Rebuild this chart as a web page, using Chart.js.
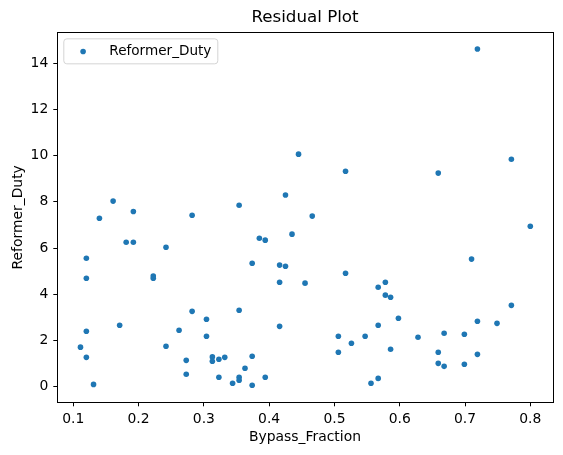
<!DOCTYPE html>
<html>
<head>
<meta charset="utf-8">
<script src="https://cdn.jsdelivr.net/npm/chart.js@4.4.1/dist/chart.umd.min.js"></script>
<style>
html,body{margin:0;padding:0;background:#fff;}
#wrap{width:563px;height:455px;position:relative;}
</style>
</head>
<body>
<div id="wrap"><canvas id="c"></canvas></div>
<script>
const chartTitle = "Residual Plot";
const xLabel = "Bypass_Fraction";
const yLabel = "Reformer_Duty";
const seriesName = "Reformer_Duty";
const xTicks = [0.1, 0.2, 0.3, 0.4, 0.5, 0.6, 0.7, 0.8];
const yTicks = [0, 2, 4, 6, 8, 10, 12, 14];

const bypassFraction = [
  0.140, 0.192, 0.282, 0.161, 0.181, 0.192, 0.242, 0.120, 0.120, 0.2225,
  0.2225, 0.282, 0.304, 0.171, 0.120, 0.262, 0.304, 0.111, 0.242, 0.120,
  0.273, 0.313, 0.313, 0.323, 0.332, 0.273, 0.323, 0.131, 0.445, 0.517,
  0.425, 0.354, 0.466, 0.719, 0.771, 0.659, 0.435, 0.385, 0.394, 0.374,
  0.416, 0.425, 0.517, 0.416, 0.455, 0.578, 0.567, 0.578, 0.586, 0.354,
  0.416, 0.567, 0.506, 0.547, 0.526, 0.506, 0.586, 0.374, 0.363, 0.354,
  0.354, 0.394, 0.344, 0.374, 0.556, 0.567, 0.800, 0.710, 0.771, 0.598,
  0.719, 0.749, 0.628, 0.668, 0.699, 0.659, 0.719, 0.659, 0.668, 0.699
];
const reformerDuty = [
  7.29, 7.58, 7.42, 8.03, 6.25, 6.25, 6.03, 5.56, 4.69, 4.79,
  4.69, 3.26, 2.92, 2.66, 2.40, 2.44, 2.18, 1.71, 1.75, 1.27,
  1.14, 1.29, 1.10, 1.19, 1.27, 0.54, 0.41, 0.10, 10.06, 9.32,
  8.29, 7.85, 7.38, 14.61, 9.84, 9.24, 6.60, 6.42, 6.34, 5.34,
  5.26, 5.21, 4.91, 4.52, 4.48, 4.52, 4.30, 3.96, 3.87, 3.31,
  2.61, 2.66, 2.18, 2.18, 1.88, 1.49, 1.62, 1.32, 0.80, 0.41,
  0.28, 0.41, 0.15, 0.06, 0.15, 0.36, 6.94, 5.52, 3.52, 2.96,
  2.83, 2.74, 2.14, 2.31, 2.27, 1.49, 1.40, 1.01, 0.88, 0.97
];

const points = bypassFraction.map((x, i) => ({x: x, y: reformerDuty[i]}));
const FONT = "'DejaVu Sans', sans-serif";
const BLUE = '#1f77b4';

const framePlugin = {
  id: 'frame',
  afterDraw(chart) {
    const {ctx, chartArea: a} = chart;
    ctx.save();
    ctx.strokeStyle = '#000';
    ctx.lineWidth = 1;
    ctx.strokeRect(Math.round(a.left) + 0.5, Math.round(a.top) + 0.5,
                   Math.round(a.right) - Math.round(a.left), Math.round(a.bottom) - Math.round(a.top));
    // legend
    const bx = a.left + 6.5, by = a.top + 6.5, bw = 154, bh = 25, r = 3;
    ctx.beginPath();
    ctx.moveTo(bx + r, by);
    ctx.lineTo(bx + bw - r, by);
    ctx.quadraticCurveTo(bx + bw, by, bx + bw, by + r);
    ctx.lineTo(bx + bw, by + bh - r);
    ctx.quadraticCurveTo(bx + bw, by + bh, bx + bw - r, by + bh);
    ctx.lineTo(bx + r, by + bh);
    ctx.quadraticCurveTo(bx, by + bh, bx, by + bh - r);
    ctx.lineTo(bx, by + r);
    ctx.quadraticCurveTo(bx, by, bx + r, by);
    ctx.closePath();
    ctx.fillStyle = 'rgba(255,255,255,0.8)';
    ctx.fill();
    ctx.strokeStyle = '#d4d4d4';
    ctx.stroke();
    ctx.beginPath();
    ctx.arc(bx + 19.3, by + 12.6, 2.8, 0, Math.PI * 2);
    ctx.fillStyle = BLUE;
    ctx.fill();
    ctx.fillStyle = '#000';
    ctx.font = "13.6px " + FONT;
    ctx.textBaseline = 'middle';
    ctx.textAlign = 'left';
    ctx.fillText(chart.data.datasets[0].label, bx + 45.5, by + 12.8);
    ctx.restore();
  }
};

new Chart(document.getElementById('c'), {
  type: 'scatter',
  data: {
    datasets: [{
      label: seriesName,
      data: points,
      backgroundColor: BLUE,
      borderColor: BLUE,
      borderWidth: 0,
      pointRadius: 2.8,
      pointHoverRadius: 2.8
    }]
  },
  options: {
    responsive: true,
    maintainAspectRatio: false,
    animation: false,
    events: [],
    layout: {padding: {left: 0, right: 10.3, top: 0, bottom: 0}},
    plugins: {
      legend: {display: false},
      tooltip: {enabled: false},
      title: {
        display: true,
        text: chartTitle,
        fullSize: false,
        color: '#000',
        font: {family: FONT, size: 16.7, weight: 'normal', lineHeight: 1.2},
        padding: {top: 7.5, bottom: 4.8}
      }
    },
    scales: {
      x: {
        type: 'linear',
        min: 0.0755,
        max: 0.8343,
        afterFit(s) { s.height = 52.7; },
        afterBuildTicks(s) { s.ticks = xTicks.map(v => ({value: v})); },
        border: {display: false},
        grid: {display: true, drawOnChartArea: false, drawTicks: true, tickLength: 4, color: '#000', lineWidth: 1},
        ticks: {
          color: '#000',
          font: {family: FONT, size: 13.9},
          padding: 4.6,
          maxRotation: 0,
          autoSkip: false,
          callback: v => Number(v).toFixed(1)
        },
        title: {
          display: true,
          text: xLabel,
          color: '#000',
          font: {family: FONT, size: 13.9},
          padding: {top: 2, bottom: 9.6}
        }
      },
      y: {
        type: 'linear',
        min: -0.675,
        max: 15.33,
        afterFit(s) { s.width = 57.3; },
        afterBuildTicks(s) { s.ticks = yTicks.map(v => ({value: v})); },
        border: {display: false},
        grid: {display: true, drawOnChartArea: false, drawTicks: true, tickLength: 4, color: '#000', lineWidth: 1},
        ticks: {
          color: '#000',
          font: {family: FONT, size: 13.9},
          padding: 5,
          autoSkip: false,
          callback: v => String(v)
        },
        title: {
          display: true,
          text: yLabel,
          color: '#000',
          font: {family: FONT, size: 13.9},
          padding: {top: 9.6, bottom: 2}
        }
      }
    }
  },
  plugins: [framePlugin]
});
</script>
</body>
</html>
